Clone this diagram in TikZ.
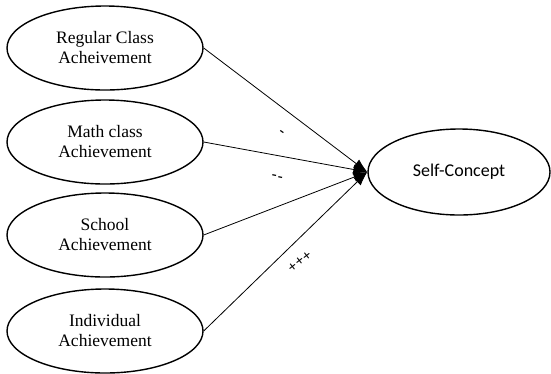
\documentclass[tikz,border=0pt]{standalone}
\usepackage{fontspec}
\setmainfont{Liberation Serif}
\newfontfamily\conceptfont{Carlito}
\usetikzlibrary{shapes.geometric,arrows.meta}
\definecolor{inkdark}{HTML}{000000}

\begin{document}
\begin{tikzpicture}[x=1pt,y=-1pt,inkdark,
  factor/.style={ellipse,draw,line width=1.4pt,minimum width=196pt,minimum height=84pt,
    inner sep=0pt,align=center,font=\fontsize{17.5}{20}\selectfont},
  outcome/.style={ellipse,draw,line width=1.4pt,minimum width=182pt,minimum height=86pt,
    inner sep=0pt,font=\conceptfont\fontsize{18}{20}\selectfont},
  effect/.style={line width=0.8pt,-{Latex[length=14pt,width=10pt]}},
  sign/.style={inner sep=0pt,font=\bfseries\fontsize{15}{15}\selectfont}]
  \useasboundingbox (0,0) rectangle (551,373);

  \node[outcome] (self) at (459,172) {Self-Concept};

  % predictors, top to bottom
  \foreach \name/\yy/\txt in {
    regular/48/{Regular Class\\Acheivement},
    math/142/{Math class\\Achievement},
    school/235/{School\\Achievement},
    individual/331/{Individual\\Achievement}} {
    \node[factor] (\name) at (105,\yy) {\txt};
    \draw[effect] (\name.east) -- (self.west);
  }

  % signs of the effects
  \node[sign,rotate=-35] (signregular) at (281,133) {-};
  \node[sign,rotate=-12] (signmath) at (277,178) {-\kern1pt-};
  \node[sign,rotate=38] (signschool) at (300,262) {+\kern0.5pt+\kern0.5pt+};
\end{tikzpicture}
\end{document}
